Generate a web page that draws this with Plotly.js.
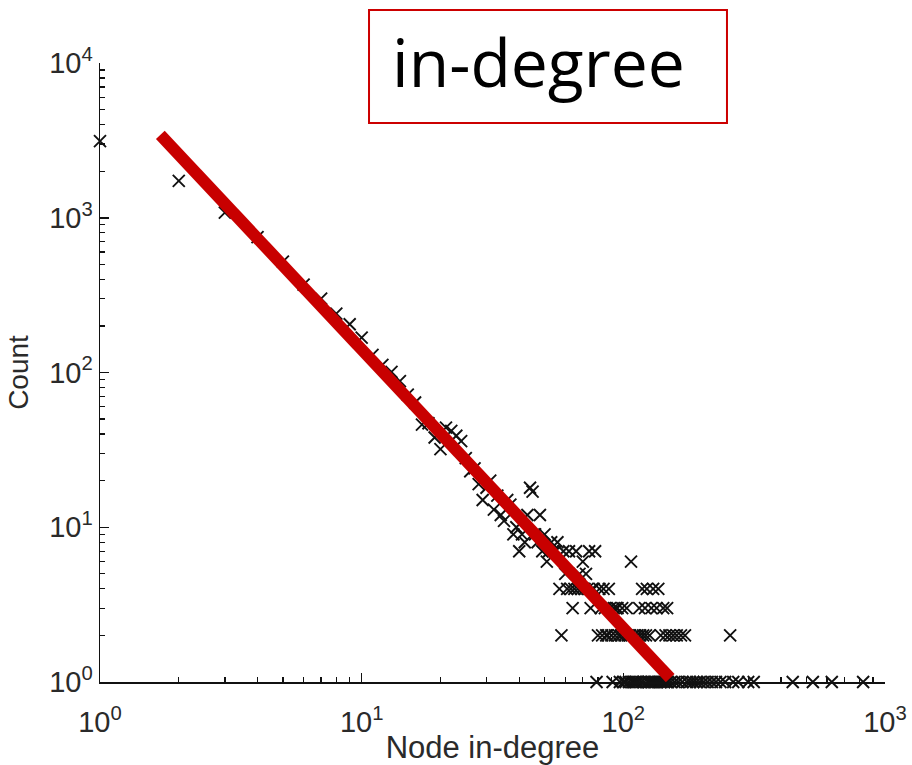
<!DOCTYPE html>
<html>
<head>
<meta charset="utf-8">
<script src="https://cdn.plot.ly/plotly-3.0.1.min.js"></script>
<style>
  html, body { margin: 0; padding: 0; background: #ffffff; }
  #chart { width: 912px; height: 765px; }
</style>
</head>
<body>
<div id="chart"></div>
<script>
// Node in-degree values (x) and how many nodes have them (y)
const degree = [
  1, 2, 3, 4, 5, 6, 7, 8, 9, 10, 11, 12, 13, 14, 15, 16, 17, 18, 19, 20,
  21, 22, 23, 24, 25, 26, 27, 28, 29, 30, 31, 32, 33, 34, 35, 36, 37, 38, 39,
  40, 41, 42, 43, 44, 45, 46, 47, 48, 49, 50, 51, 52, 53, 54, 55, 56, 57, 58, 59,
  60, 61, 62, 63, 64, 65, 66, 67, 68, 69, 70, 71, 72, 73, 74, 75, 76, 77, 78, 79,
  80, 81, 82, 83, 84, 85, 86, 87, 88, 89, 90, 91, 92, 93, 94, 95, 96, 97, 98, 99,
  100, 101, 102, 103, 104, 105, 106, 107, 108, 109, 110, 111, 112, 113, 114, 115,
  116, 117, 118, 119, 120, 121, 122, 123, 124, 125, 126, 127, 128, 129, 130, 131,
  133, 134, 135, 136, 138, 139, 140, 142, 143, 145, 146, 147, 148, 150, 152, 155,
  157, 160, 162, 166, 168, 172, 175, 180, 185, 190, 196, 203, 210, 218, 226, 235,
  245, 256, 263, 275, 300, 315, 444, 530, 626, 825
];
const count = [
  3130, 1730, 1080, 750, 520, 370, 300, 240, 205, 168, 130, 112, 101, 88, 72, 64, 46, 47, 38, 32,
  44, 42, 39, 36, 28, 23, 24, 19, 15, 18, 20, 13, 16, 12, 11, 15, 14, 9, 10,
  7, 9, 8, 12, 18, 17, 9, 8, 12, 7, 9, 6, 7, 8, 7, 7, 8, 4, 2, 7,
  5, 4, 7, 4, 3, 4, 7, 4, 5, 4, 6, 4, 5, 4, 7, 3, 4, 4, 7, 1,
  2, 4, 3, 2, 4, 3, 2, 2, 4, 3, 2, 1, 3, 2, 3, 3, 2, 1, 2, 3,
  1, 2, 1, 3, 2, 1, 2, 6, 1, 1, 2, 1, 1, 2, 1, 3,
  2, 1, 4, 2, 1, 3, 2, 4, 1, 1, 2, 1, 3, 1, 4, 1,
  1, 3, 1, 4, 1, 2, 1, 3, 1, 2, 1, 3, 1, 2, 1, 2,
  1, 2, 1, 2, 1, 2, 1, 1, 1, 1, 1, 1, 1, 1, 1, 1,
  1, 2, 1, 1, 1, 1, 1, 1, 1, 1
];
// Fitted power-law line end points
const fitX = [1.7, 151];
const fitY = [3430, 1.06];

// Axis ticks
const xTickVals = [1, 10, 100, 1000];
const xTickText = ['10<sup>0</sup>', '10<sup>1</sup>', '10<sup>2</sup>', '10<sup>3</sup>'];
const yTickVals = [1, 10, 100, 1000, 10000];
const yTickText = ['10<sup>0</sup>', '10<sup>1</sup>', '10<sup>2</sup>', '10<sup>3</sup>', '10<sup>4</sup>'];
const minorMult = [2, 3, 4, 5, 6, 7, 8, 9];
const xMinor = [];
[1, 10, 100].forEach(d => minorMult.forEach(m => xMinor.push(d * m)));
const yMinor = [];
[1, 10, 100, 1000].forEach(d => minorMult.forEach(m => yMinor.push(d * m)));

const boxText = 'in-degree';
const xTitle = 'Node in-degree';
const yTitle = 'Count';

const tickFont = { family: 'Liberation Sans, Arial, sans-serif', size: 29, color: '#2a2a2a' };

const traces = [
  {
    x: degree, y: count, type: 'scatter', mode: 'markers', cliponaxis: false,
    marker: { symbol: 'x-thin', size: 12, color: '#111', line: { width: 1.9, color: '#111' } },
    hoverinfo: 'x+y'
  },
  {
    x: fitX, y: fitY, type: 'scatter', mode: 'lines',
    line: { color: '#c80000', width: 12 }
  }
];

const axisCommon = {
  type: 'log', showgrid: false, zeroline: false,
  showline: true, linecolor: '#111', linewidth: 1.5, mirror: false,
  ticks: 'inside', ticklen: 9, tickwidth: 1.5, tickcolor: '#111',
  tickmode: 'array', tickfont: tickFont,
  minor: { ticks: 'inside', ticklen: 5, tickwidth: 1.3, tickcolor: '#111', tickmode: 'array', showgrid: false }
};

const layout = {
  width: 912, height: 765,
  margin: { l: 100, r: 27, t: 63, b: 83 },
  paper_bgcolor: '#ffffff', plot_bgcolor: '#ffffff',
  showlegend: false,
  xaxis: Object.assign({}, axisCommon, {
    range: [0, 3], tickvals: xTickVals, ticktext: xTickText,
    ticklabelstandoff: 14,
    minor: Object.assign({}, axisCommon.minor, { tickvals: xMinor }),
    title: { text: xTitle, font: { family: 'Liberation Sans, Arial, sans-serif', size: 31, color: '#2a2a2a' }, standoff: 0 },
    automargin: false
  }),
  yaxis: Object.assign({}, axisCommon, {
    range: [0, 4], tickvals: yTickVals, ticktext: yTickText,
    minor: Object.assign({}, axisCommon.minor, { tickvals: yMinor }),
    title: { text: yTitle, font: { family: 'Liberation Sans, Arial, sans-serif', size: 28, color: '#2a2a2a' }, standoff: 12 },
    automargin: false
  }),
  shapes: [
    { type: 'rect', xref: 'paper', yref: 'paper', x0: 0.3427, x1: 0.7987, y0: 0.9031, y1: 1.0856,
      line: { color: '#cc0000', width: 2 }, fillcolor: 'rgba(0,0,0,0)' }
  ],
  annotations: [
    { text: boxText, xref: 'paper', yref: 'paper', x: 0.3695, y: 1.003, xanchor: 'left', yanchor: 'middle',
      showarrow: false, font: { family: 'Open Sans, Noto Sans, sans-serif', size: 66, color: '#000' } }
  ]
};

Plotly.newPlot('chart', traces, layout, { displayModeBar: false, staticPlot: true });
</script>
</body>
</html>
